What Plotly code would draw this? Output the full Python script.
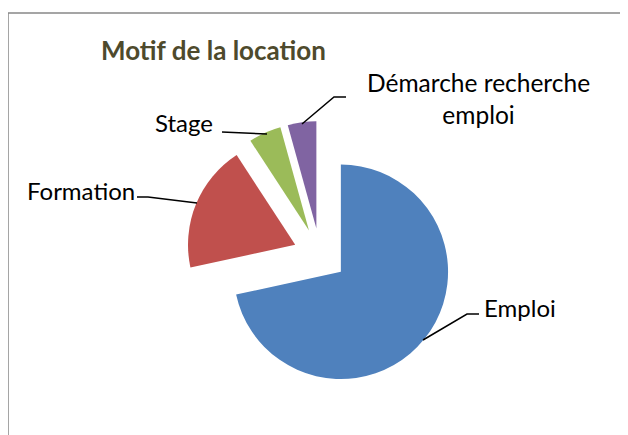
import plotly.graph_objects as go

W, H = 620, 427
OFF = 8  # page body margin

categories = ["Emploi", "Formation", "Stage", "Démarche recherche emploi"]
values = [71.6, 19.2, 4.9, 4.3]
colors = ["#4F81BD", "#C0504D", "#9BBB59", "#8064A2"]
title_text = "Motif de la location"


def px(x):
    return (x - OFF) / W


def py(y):
    return 1 - (y - OFF) / H


# pie box (pixels)
cx, cy, half = 320, 255, 134
fig = go.Figure(go.Pie(
    labels=categories,
    values=values,
    sort=False,
    direction="clockwise",
    rotation=0,
    pull=[0.25, 0.25, 0.25, 0.25],
    marker=dict(colors=colors, line=dict(width=0)),
    textinfo="none",
    hoverinfo="label+percent",
    showlegend=False,
    domain=dict(x=[px(cx - half), px(cx + half)], y=[py(cy + half), py(cy - half)]),
))

font = dict(family="Lato, 'Open Sans', sans-serif", size=24, color="#000000")

ann = [
    dict(text="<b>" + title_text + "</b>", x=px(213), y=py(50), xanchor="center", yanchor="middle",
         font=dict(family="Lato, 'Open Sans', sans-serif", size=26, color="#4E4A2C")),
    dict(text="Démarche recherche<br>emploi", x=px(478), y=py(98), xanchor="center", yanchor="middle",
         align="center", font=dict(font, size=24.5)),
    dict(text="Stage", x=px(215), y=py(122), xanchor="right", yanchor="middle", font=font),
    dict(text="Formation", x=px(137), y=py(190), xanchor="right", yanchor="middle", font=font),
    dict(text="Emploi", x=px(482), y=py(307), xanchor="left", yanchor="middle", font=font),
]
for a in ann:
    a.update(xref="paper", yref="paper", showarrow=False)

leaders = [
    [(346, 97), (334, 97), (302, 124)],
    [(222, 132), (267, 134)],
    [(137, 197), (148, 197), (197, 203)],
    [(479, 314), (467, 314), (423, 340)],
]
shapes = [dict(type="rect", xref="paper", yref="paper", x0=px(8), y0=-0.1, x1=1.1, y1=py(13),
               line=dict(color="#888888", width=1.5), fillcolor="rgba(0,0,0,0)")]
for pts in leaders:
    path = "M " + " L ".join(f"{px(x)},{py(y)}" for x, y in pts)
    shapes.append(dict(type="path", xref="paper", yref="paper", path=path,
                       line=dict(color="#000000", width=1.5)))

fig.update_layout(
    width=W, height=H,
    margin=dict(l=0, r=0, t=0, b=0),
    paper_bgcolor="white",
    plot_bgcolor="white",
    annotations=ann,
    shapes=shapes,
)

fig.write_html("out.html")
